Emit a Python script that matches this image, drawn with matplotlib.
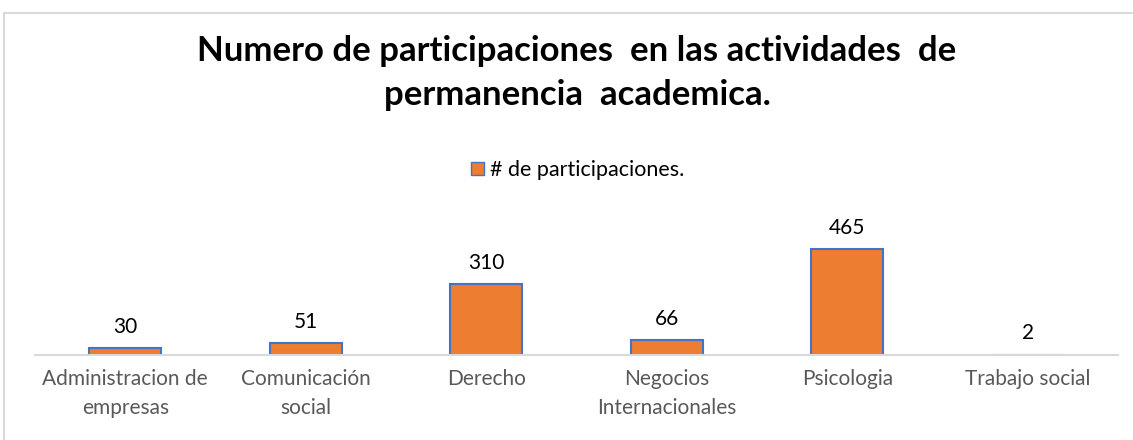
import matplotlib.pyplot as plt
from matplotlib.patches import Rectangle, Patch

carreras = ['Administracion de\nempresas', 'Comunicación\nsocial', 'Derecho',
            'Negocios\nInternacionales', 'Psicologia', 'Trabajo social']
participaciones = [30, 51, 310, 66, 465, 2]

plt.rcParams['font.family'] = ['Lato', 'DejaVu Sans']

fig = plt.figure(figsize=(11.33, 4.4), dpi=100)
ax = fig.add_axes([35 / 1133, 1 - 355 / 440, (1118 - 35) / 1133, 160 / 440])

# marco gris del grafico
fig.patches.append(Rectangle((4 / 1133, -0.1), 1.1, 0.1 + 1 - 13 / 440,
                             transform=fig.transFigure, fill=False,
                             edgecolor='#d9d9d9', linewidth=1.5))

x = range(len(carreras))
barras = ax.bar(x, participaciones, width=0.4, color='#ED7D31',
                edgecolor='#4472C4', linewidth=1.5)

for xi, v in zip(x, participaciones):
    ax.annotate(str(v), (xi, v), xytext=(0, 8), textcoords='offset points',
                ha='center', va='bottom', fontsize=15, color='black')

ax.set_xlim(-0.5, len(carreras) - 0.5)
ax.set_ylim(0, 700)
ax.set_xticks(list(x))
ax.set_xticklabels(carreras, fontsize=15, color='#595959', linespacing=1.55)
ax.tick_params(axis='x', length=0, pad=10)
ax.set_yticks([])
for lado in ['top', 'right', 'left']:
    ax.spines[lado].set_visible(False)
ax.spines['bottom'].set_color('#d9d9d9')
ax.spines['bottom'].set_linewidth(1.5)

fig.text(577 / 1133, 1 - 73 / 440,
         'Numero de participaciones  en las actividades  de\npermanencia  academica.',
         ha='center', va='center', fontsize=25, fontweight='bold',
         linespacing=1.45, color='black')

leg = fig.legend(handles=[Patch(facecolor='#ED7D31', edgecolor='#4472C4')],
                 labels=['# de participaciones.'], loc='center',
                 bbox_to_anchor=(578 / 1133, 1 - 170 / 440), frameon=False,
                 fontsize=15.5, handlelength=0.6, handleheight=0.6,
                 handletextpad=0.3)
for t in leg.get_texts():
    t.set_color('#000000')

fig.savefig('out.png', dpi=100)
